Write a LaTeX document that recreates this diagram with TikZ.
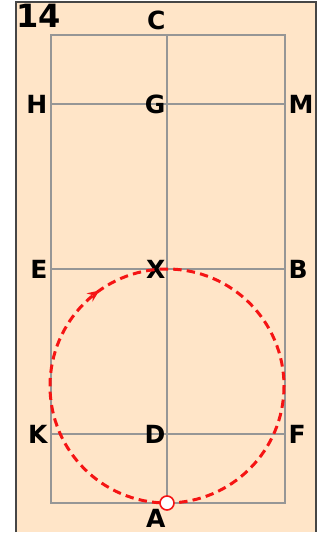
\documentclass[tikz,border=0pt]{standalone}
\usepackage{fontspec}
\usepackage{xcolor}
\usepackage{tikz}
\usetikzlibrary{arrows.meta, decorations.markings}
\newfontfamily\markfont{DejaVu Sans}
\definecolor{peach}{RGB}{255,229,200}
\definecolor{courtgrey}{RGB}{150,150,150}
\definecolor{framegrey}{RGB}{70,70,70}
\definecolor{pathred}{RGB}{245,20,20}

\begin{document}
\begin{tikzpicture}[
  x=0.5pt, y=-0.5pt,
  court/.style={draw=courtgrey, line width=1.2pt},
  letter/.style={font=\markfont\bfseries\fontsize{12.5}{12.5}\selectfont, inner sep=0.6pt},
  route/.style={draw=pathred, line width=1.5pt, dash pattern=on 4.2pt off 2.6pt,
    postaction={decorate}, decoration={markings,
      mark=at position 0.652 with {\arrow[pathred, solid]{Stealth[length=6pt, width=5pt]}}}}
]
\useasboundingbox[fill=white] (0,0) rectangle (324,535);
\fill[peach] (16,2) rectangle (316,532);
\draw[framegrey, line width=1.2pt] (16,532) -- (16,2) -- (316,2) -- (316,532);
% arena
\coordinate (nw) at (51,35);
\coordinate (se) at (285,503);
\draw[court] (nw) rectangle (se);
\draw[court] (167,35) -- (167,503);
\foreach \yy in {104,269,434}
  \draw[court] (51,\yy) -- (285,\yy);
% markers
\node[letter, anchor=east] (C) at (167,20) {C};
\node[letter, anchor=east] (H) at (49,104) {H};
\node[letter, anchor=east] (G) at (167,104) {G};
\node[letter, anchor=west] (M) at (287,104) {M};
\node[letter, anchor=east] (E) at (49,269) {E};
\node[letter, anchor=east] (X) at (167,269) {X};
\node[letter, anchor=west] (B) at (287,269) {B};
\node[letter, anchor=east] (K) at (49,434) {K};
\node[letter, anchor=east] (D) at (167,434) {D};
\node[letter, anchor=west] (F) at (287,434) {F};
\node[letter, anchor=east] (A) at (167,518) {A};
\node[font=\markfont\bfseries\fontsize{16}{16}\selectfont, inner sep=0pt, anchor=north west] (num) at (16,4) {14};
% circle from A
\path[route] (167,386) circle (117);
\node[circle, draw=pathred, fill=white, line width=0.8pt, minimum size=7pt, inner sep=0pt] (start) at (167,503) {};
\end{tikzpicture}
\end{document}
